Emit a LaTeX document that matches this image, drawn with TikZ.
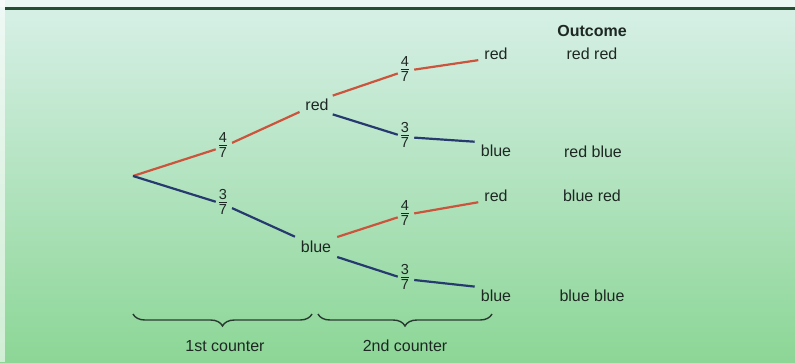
\documentclass[tikz,border=0pt]{standalone}
\usepackage{fontspec}
\setmainfont{Liberation Sans}
\usetikzlibrary{decorations.pathreplacing}
\definecolor{bgtop}{RGB}{216,240,232}
\definecolor{bgbot}{RGB}{140,214,150}
\definecolor{rulegreen}{RGB}{38,78,50}
\definecolor{branchred}{RGB}{204,84,60}
\definecolor{branchblue}{RGB}{38,58,112}
\definecolor{inkdark}{RGB}{30,40,35}
\definecolor{bracecol}{RGB}{40,58,48}
% stacked fraction: numerator, bar, denominator
\newcommand\frc[2]{{\setlength{\arrayrulewidth}{1pt}%
  \begin{tabular}{@{}c@{}}#1\\[-1.5pt]\hline\rule{0pt}{11.5pt}#2\end{tabular}}}
\begin{document}
\begin{tikzpicture}[x=1pt,y=-1pt,
  label/.style={text=inkdark,inner sep=3pt,font=\fontsize{16}{18}\selectfont},
  fracnode/.style={text=inkdark,inner sep=3pt,font=\fontsize{14.5}{15}\selectfont},
  redbranch/.style={draw=branchred,line width=2.2pt},
  bluebranch/.style={draw=branchblue,line width=2.2pt},
  counterbrace/.style={draw=bracecol,line width=1.4pt,decorate,
    decoration={brace,mirror,amplitude=12pt}}]
  % background panel and top rule
  \useasboundingbox (0,0) rectangle (795,362);
  \shade[top color=bgtop,bottom color=bgbot] (0,0) rectangle (795,362);
  \fill[white,opacity=0.6] (0,0) rectangle (5,362);
  \fill[white,opacity=0.5] (0,0) rectangle (795,7);
  \draw[rulegreen,line width=2.4pt] (5,8.5) -- (795,8.5);

  % tree nodes
  \coordinate (root) at (133,176);
  \node[fracnode] (f1a) at (223,147) {\frc{4}{7}};
  \node[fracnode] (f1b) at (223,204) {\frc{3}{7}};
  \node[label] (nred) at (317,105) {red};
  \node[label] (nblue) at (316,247) {blue};
  \node[fracnode] (f2a) at (405,71) {\frc{4}{7}};
  \node[fracnode] (f2b) at (405,137) {\frc{3}{7}};
  \node[fracnode] (f2c) at (405,215) {\frc{4}{7}};
  \node[fracnode] (f2d) at (405,279) {\frc{3}{7}};
  \node[label] (lrr) at (496,54) {red};
  \node[label] (lrb) at (496,151) {blue};
  \node[label] (lbr) at (496,196) {red};
  \node[label] (lbb) at (496,296) {blue};

  % outcome column
  \node[label,font=\fontsize{16}{18}\selectfont\bfseries] (head) at (592,31) {Outcome};
  \node[label] (orr) at (592,54) {red red};
  \node[label] (orb) at (593,152) {red blue};
  \node[label] (obr) at (592,196) {blue red};
  \node[label] (obb) at (592,296) {blue blue};

  % branches
  \draw[redbranch] (root) -- (f1a);
  \draw[redbranch,shorten <=2pt,shorten >=3pt] (f1a) -- (nred.base west);
  \draw[bluebranch] (root) -- (f1b);
  \draw[bluebranch,shorten <=2pt,shorten >=3pt] (f1b) -- (nblue.north west);
  \draw[redbranch,shorten <=1pt] (nred.north east) -- (f2a);
  \draw[redbranch,shorten <=2pt,shorten >=3pt] (f2a) -- (lrr.base west);
  \draw[bluebranch,shorten <=1pt] (nred.south east) -- (f2b);
  \draw[bluebranch,shorten <=2pt,shorten >=3pt] (f2b) -- (lrb.north west);
  \draw[redbranch,shorten <=3pt] (nblue.north east) -- (f2c);
  \draw[redbranch,shorten <=2pt,shorten >=3pt] (f2c) -- (lbr.base west);
  \draw[bluebranch,shorten <=3pt] (nblue.south east) -- (f2d);
  \draw[bluebranch,shorten <=2pt,shorten >=3pt] (f2d) -- (lbb.north west);

  % counter braces
  \coordinate (b1l) at (133,314);
  \coordinate (b1r) at (312,314);
  \coordinate (b2l) at (318,314);
  \coordinate (b2r) at (492,314);
  \draw[counterbrace] (b1l) -- (b1r);
  \draw[counterbrace] (b2l) -- (b2r);
  \node[label] (c1) at (225,346) {1st counter};
  \node[label] (c2) at (405,346) {2nd counter};
\end{tikzpicture}
\end{document}
